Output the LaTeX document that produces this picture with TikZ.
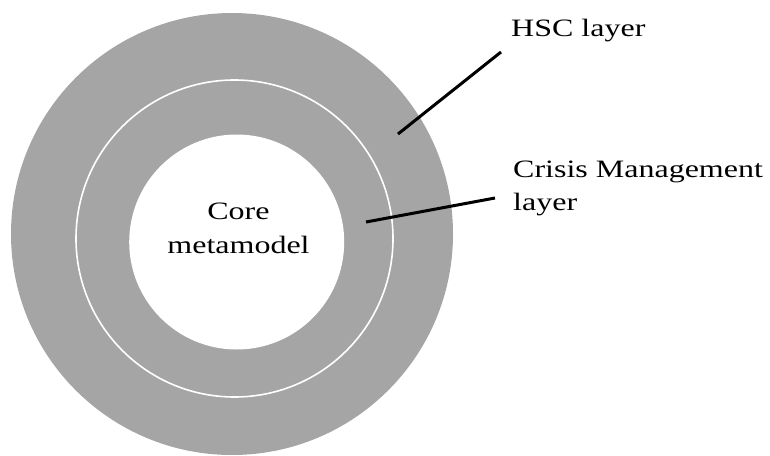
\documentclass[tikz,border=0pt]{standalone}
\usepackage{fontspec}
\setmainfont[FakeStretch=1.28]{Liberation Serif}
\definecolor{ringgray}{HTML}{A5A5A5}
\tikzset{
  lbl/.style={inner sep=0pt, anchor=base west, font=\fontsize{25}{29}\selectfont},
  corelbl/.style={inner sep=0pt, anchor=base, font=\fontsize{25}{29}\selectfont},
  leader/.style={line width=3pt, black}
}
\begin{document}
\begin{tikzpicture}[x=1pt,y=-1pt]
\useasboundingbox (0,0) rectangle (770,455);
\fill[ringgray] (232,234) circle (221);
\draw[white, line width=1.6pt] (234.5,238.5) circle (158.5);
\fill[white] (236.7,242) circle (107.5);
\node[corelbl] (core1) at (238.5,219) {Core};
\node[corelbl] (core2) at (238.5,253) {metamodel};
\node[lbl] (hsc) at (511,36) {HSC layer};
\node[lbl] (cm1) at (513,177) {Crisis Management};
\node[lbl] (cm2) at (513,210) {layer};
\coordinate (hscA) at (398,134);
\coordinate (hscB) at (501,52);
\coordinate (cmA) at (366,222);
\coordinate (cmB) at (495,198);
\draw[leader] (hscA) -- (hscB);
\draw[leader] (cmA) -- (cmB);
\end{tikzpicture}
\end{document}
